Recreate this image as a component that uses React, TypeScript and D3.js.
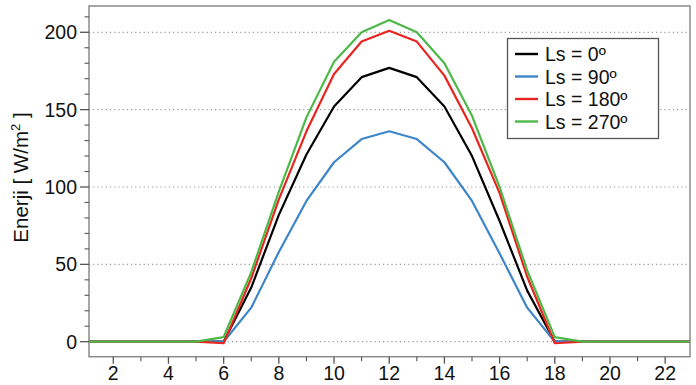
import * as d3 from "d3";

const hours = d3.range(1, 24);

// values per hour 1..23
const ls0 = [0, 0, 0, 0, 0, 0, 35, 82, 121, 152, 171, 177, 171, 152, 120, 78, 33, 0, 0, 0, 0, 0, 0];
const ls90 = [0, 0, 0, 0, 0, 0, 22, 58, 91, 116, 131, 136, 131, 116, 91, 57, 22, 0, 0, 0, 0, 0, 0];
const ls180 = [0, 0, 0, 0, 0, -1, 41, 92, 136, 173, 194, 201, 194, 172, 138, 96, 42, -1, 0, 0, 0, 0, 0];
const ls270 = [0, 0, 0, 0, 0, 3, 45, 97, 145, 181, 200, 208, 200, 180, 146, 100, 46, 3, 0, 0, 0, 0, 0];

const seriesNames = ["Ls = 0º", "Ls = 90º", "Ls = 180º", "Ls = 270º"];
const seriesColors = ["#000000", "#3d86c8", "#e8251f", "#4db848"];
const seriesValues = [ls0, ls90, ls180, ls270];

const xMajor = [2, 4, 6, 8, 10, 12, 14, 16, 18, 20, 22];
const yMajor = [0, 50, 100, 150, 200];

const WIDTH = 696;
const HEIGHT = 385;
const LEFT = 89;
const RIGHT = 690;
const TOP = 6;
const BOTTOM = 356.7;
const FONT = "'Liberation Sans', Arial, Helvetica, sans-serif";

export default function App() {
  const x = d3.scaleLinear().domain([1.12, 22.9]).range([LEFT, RIGHT]);
  const y = d3.scaleLinear().domain([-9.7, 217]).range([BOTTOM, TOP]);

  const line = d3
    .line<number>()
    .x((_, i) => x(hours[i]))
    .y((d) => y(d));

  const xMinor = d3.range(2, 23).filter((v) => !xMajor.includes(v));
  const yMinor = d3.range(-10, 220, 10).filter((v) => !yMajor.includes(v) && y(v) <= BOTTOM && y(v) >= TOP);

  return (
    <svg
      width={WIDTH}
      height={HEIGHT}
      style={{ position: "absolute", left: 0, top: 0, fontFamily: FONT }}
    >
      <defs>
        <clipPath id="plot">
          <rect x={LEFT} y={TOP} width={RIGHT - LEFT} height={BOTTOM - TOP} />
        </clipPath>
      </defs>

      {/* grid */}
      {yMajor.map((v) => (
        <line
          key={v}
          x1={LEFT}
          x2={RIGHT}
          y1={y(v)}
          y2={y(v)}
          stroke="#999"
          strokeWidth={1.2}
          strokeDasharray="1.2,3"
        />
      ))}

      {/* lines */}
      <g clipPath="url(#plot)">
        {seriesValues.map((vals, i) => (
          <path
            key={i}
            d={line(vals) ?? ""}
            fill="none"
            stroke={seriesColors[i]}
            strokeWidth={2.2}
            strokeLinejoin="round"
          />
        ))}
      </g>

      {/* frame */}
      <rect
        x={LEFT}
        y={TOP}
        width={RIGHT - LEFT}
        height={BOTTOM - TOP}
        fill="none"
        stroke="#8a8a8a"
        strokeWidth={1.5}
      />

      {/* y ticks */}
      {yMajor.map((v) => (
        <g key={v}>
          <line x1={LEFT - 9} x2={LEFT} y1={y(v)} y2={y(v)} stroke="#555" strokeWidth={1.3} />
          <text x={LEFT - 12} y={y(v)} dy="0.36em" textAnchor="end" fontSize={19.5} fill="#111">
            {v}
          </text>
        </g>
      ))}
      {yMinor.map((v) => (
        <line key={v} x1={LEFT - 4.5} x2={LEFT} y1={y(v)} y2={y(v)} stroke="#555" strokeWidth={1.1} />
      ))}

      {/* x ticks */}
      {xMajor.map((v) => (
        <g key={v}>
          <line x1={x(v)} x2={x(v)} y1={BOTTOM} y2={BOTTOM + 7} stroke="#555" strokeWidth={1.3} />
          <text x={x(v)} y={380} textAnchor="middle" fontSize={19.5} fill="#111">
            {v}
          </text>
        </g>
      ))}
      {xMinor.map((v) => (
        <line key={v} x1={x(v)} x2={x(v)} y1={BOTTOM} y2={BOTTOM + 4.5} stroke="#555" strokeWidth={1.1} />
      ))}

      {/* y label */}
      <text
        transform="translate(28, 177.5) rotate(-90)"
        textAnchor="middle"
        fontSize={20.5}
        fill="#111"
      >
        Enerji [ W/m<tspan dy={-8} fontSize={13}>2</tspan>
        <tspan dy={8}> ]</tspan>
      </text>

      {/* legend */}
      <rect x={507.5} y={38.5} width={151} height={100} fill="#fff" stroke="#555" strokeWidth={1.3} />
      {seriesNames.map((name, i) => {
        const ly = 54 + i * 22.5;
        return (
          <g key={name}>
            <line x1={515} x2={538} y1={ly} y2={ly} stroke={seriesColors[i]} strokeWidth={2.4} />
            <text x={545} y={ly} dy="0.36em" fontSize={19.5} fill="#111">
              {name}
            </text>
          </g>
        );
      })}
    </svg>
  );
}
